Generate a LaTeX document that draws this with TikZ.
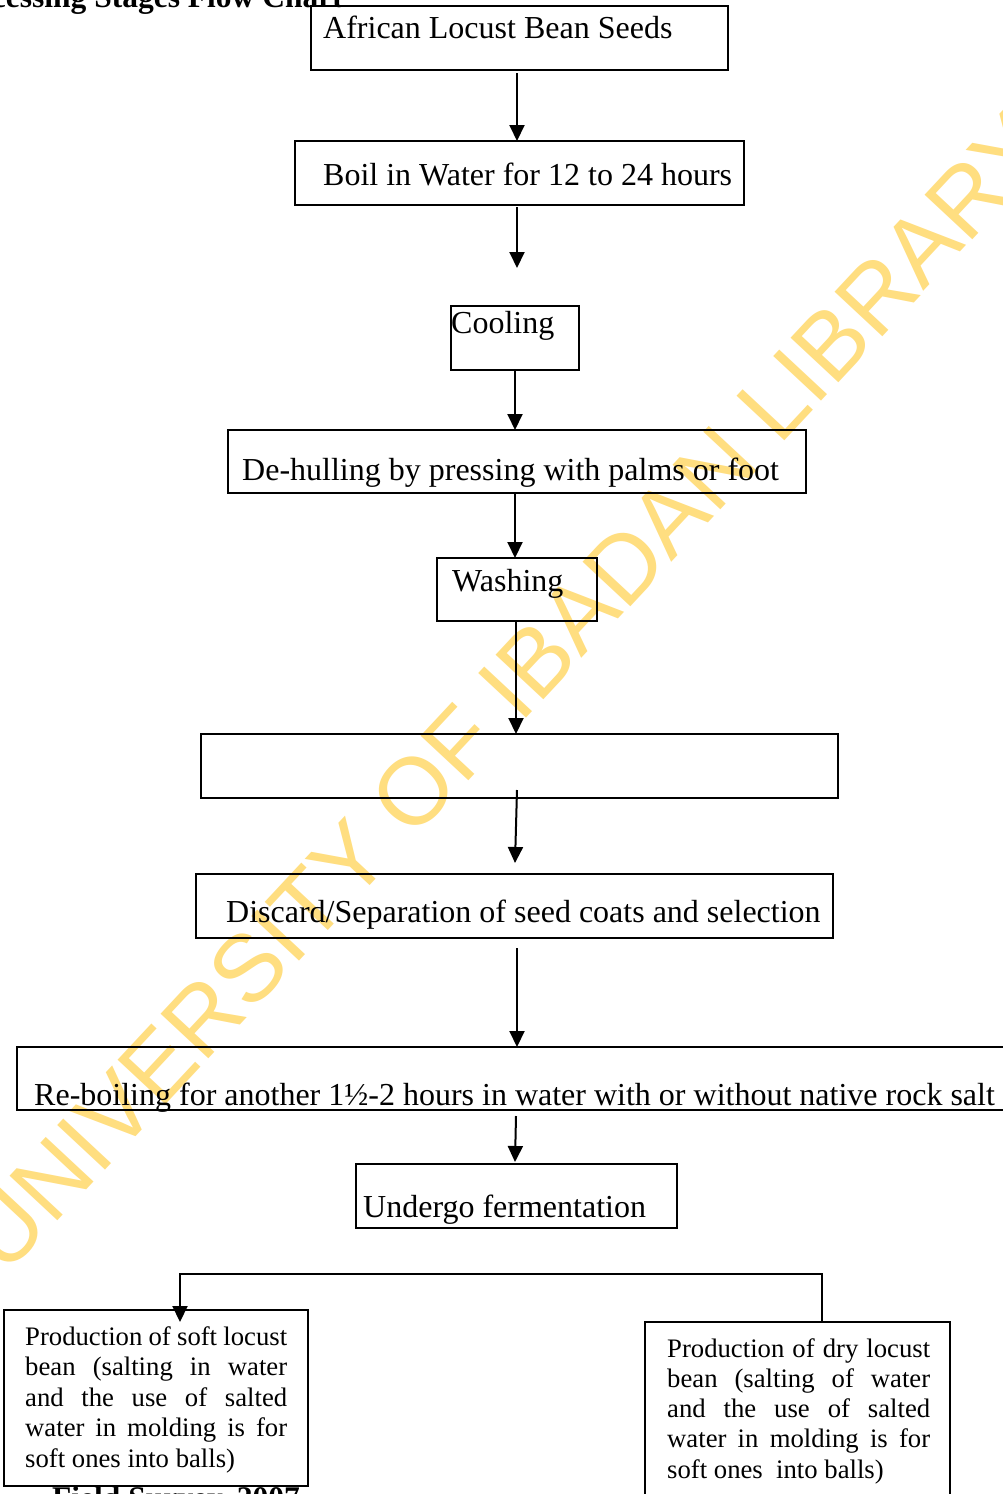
\documentclass[tikz,border=0pt]{standalone}
\usepackage{fontspec}
\setmainfont{Liberation Serif}
\newfontfamily\wmfont{Liberation Sans}
\usetikzlibrary{arrows.meta}
\definecolor{wmyellow}{RGB}{255,222,128}
\newcommand\flowbox[5]{\node[box,minimum width={#4-#2},minimum height={#5-#3}] (#1) at (#2,#3) {};}
\begin{document}
\begin{tikzpicture}[x=1pt,y=-1pt,
  box/.style={draw,line width=2.2pt,inner sep=0pt,outer sep=0pt,anchor=north west},
  lbl/.style={anchor=base west,inner sep=0pt,font=\fontsize{32}{36}\selectfont},
  sml/.style={anchor=base west,inner sep=0pt,font=\fontsize{26.7}{30}\selectfont},
  ttl/.style={inner sep=0pt,font=\bfseries\fontsize{31.5}{36}\selectfont},
  arr/.style={line width=2pt,-{Triangle[width=15pt,length=16pt]}},
  conn/.style={line width=2pt}]
\path[use as bounding box] (0,0) rectangle (1003,1494);
\clip (0,0) rectangle (1003,1494);
\fill[white] (0,0) rectangle (1003,1494);
% watermark
\node[rotate=47,text=wmyellow,inner sep=0pt,font=\wmfont\fontsize{95}{95}\selectfont] (wm) at (507,691) {UNIVERSITY OF IBADAN LIBRARY};
% title and source (cropped)
\node[ttl,anchor=base east] (title) at (343,7) {Processing Stages Flow Chart};
\node[ttl,anchor=base west] (src) at (52,1508) {Field Survey, 2007};
% boxes
\flowbox{n1}{311}{6}{728}{70}
\flowbox{n2}{295}{141}{744}{205}
\flowbox{n3}{451}{306}{579}{370}
\flowbox{n4}{228}{430}{806}{493}
\flowbox{n5}{437}{558}{597}{621}
\flowbox{n6}{201}{734}{838}{798}
\flowbox{n7}{196}{874}{833}{938}
\flowbox{n8}{17}{1047}{1012}{1110}
\flowbox{n9}{356}{1164}{677}{1228}
\flowbox{n10}{4}{1310}{308}{1486}
\flowbox{n11}{645}{1322}{950}{1505}
% texts
\node[lbl] (t1) at (323,38) {African Locust Bean Seeds};
\node[lbl] (t2) at (323,185) {Boil in Water for 12 to 24 hours};
\node[lbl] (t3) at (451,333) {Cooling};
\node[lbl] (t4) at (242,480) {De-hulling by pressing with palms or foot};
\node[lbl] (t5) at (452,591) {Washing};
\node[lbl] (t7) at (226,922) {Discard/Separation of seed coats and selection};
\node[lbl] (t8) at (34,1105) {Re-boiling for another 1½-2 hours in water with or without native rock salt};
\node[lbl] (t9) at (363,1217) {Undergo fermentation};
\foreach \txt [count=\i] in {Production of soft locust,bean (salting in water,and the use of salted,water in molding is for}
  \node[sml] (sa\i) at (25,{1345+30.6*(\i-1)}) {\makebox[262pt][s]{\txt}};
\node[sml] (sa5) at (25,1467.5) {soft ones into balls)};
\foreach \txt [count=\i] in {Production of dry locust,bean (salting of water,and the use of salted,water in molding is for}
  \node[sml] (sb\i) at (667,{1357+30.3*(\i-1)}) {\makebox[263pt][s]{\txt}};
\node[sml] (sb5) at (667,1478) {soft ones\ \ into balls)};
% connector coordinates
\coordinate (a1s) at (517,73);
\coordinate (a2s) at (517,207);
\coordinate (a2e) at (517,268);
\coordinate (a6s) at (517,790);
\coordinate (a6e) at (515,863);
\coordinate (a7s) at (517,948);
\coordinate (a8s) at (516,1116);
\coordinate (a8e) at (515,1162);
\coordinate (sl) at (180,1274);
\coordinate (sr) at (822,1274);
\coordinate (sle) at (180,1322);
% connectors
\draw[arr] (a1s) -- (a1s |- n2.north);
\draw[arr] (a2s) -- (a2e);
\draw[arr] (n3.south -| 515,0) -- (n4.north -| 515,0);
\draw[arr] (n4.south -| 515,0) -- (n5.north -| 515,0);
\draw[arr] (n5.south -| 516,0) -- (n6.north -| 516,0);
\draw[arr] (a6s) -- (a6e);
\draw[arr] (a7s) -- (a7s |- n8.north);
\draw[arr] (a8s) -- (a8e);
\draw[arr] (sle |- sl) ++(0,34) -- (sle);
\draw[conn] (180,1309) -- (sl) -- (sr) -- (sr |- n11.north);
\end{tikzpicture}
\end{document}
